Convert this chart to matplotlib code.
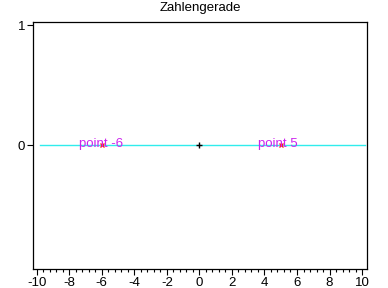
import numpy as np
import matplotlib.pyplot as plt
from matplotlib.ticker import MultipleLocator

plt.rcParams['font.family'] = ['Liberation Sans', 'DejaVu Sans']

title = 'Zahlengerade'
points_x = [-6, 5]
point_labels = ['point -6', 'point 5']
label_shift = 1.4   # labels start this far left of their point
origin = [0]
line_x = [-9.8, 10.2]
xticks = list(range(-10, 11, 2))
yticks = [0, 1]

fig = plt.figure(figsize=(3.88, 2.88), dpi=100)
ax = fig.add_axes([0.085, 0.066, 0.862, 0.858])

ax.plot(line_x, [0, 0], color='#30ecec', lw=1.0, zorder=1)
ax.plot(origin, [0], marker='+', color='black', ms=5, mew=1.0, ls='none', zorder=3)
ax.plot(points_x, [0] * len(points_x), marker='x', color='#ff2222', ms=3, mew=1.0,
        ls='none', zorder=3)
for x, lab in zip(points_x, point_labels):
    ax.text(x - label_shift, -0.013, lab, color='#cc22ee', fontsize=9.5, ha='left',
            va='baseline', zorder=4)

ax.set_xlim(-10.23, 10.33)
ax.set_ylim(-1.03, 1.03)
ax.set_xticks(xticks)
ax.set_xticklabels([str(t) for t in xticks])
ax.xaxis.set_minor_locator(MultipleLocator(0.4))
ax.set_yticks(yticks)
ax.tick_params(axis='both', which='major', direction='out', length=4, width=0.8,
               labelsize=9.5, pad=1.5, colors='black')
ax.tick_params(axis='x', which='minor', direction='out', length=2.5, width=0.8)
ax.tick_params(top=False, right=False)
for s in ax.spines.values():
    s.set_linewidth(0.9)
ax.set_title(title, fontsize=9.5, pad=8)

fig.savefig('out.png', dpi=100)
